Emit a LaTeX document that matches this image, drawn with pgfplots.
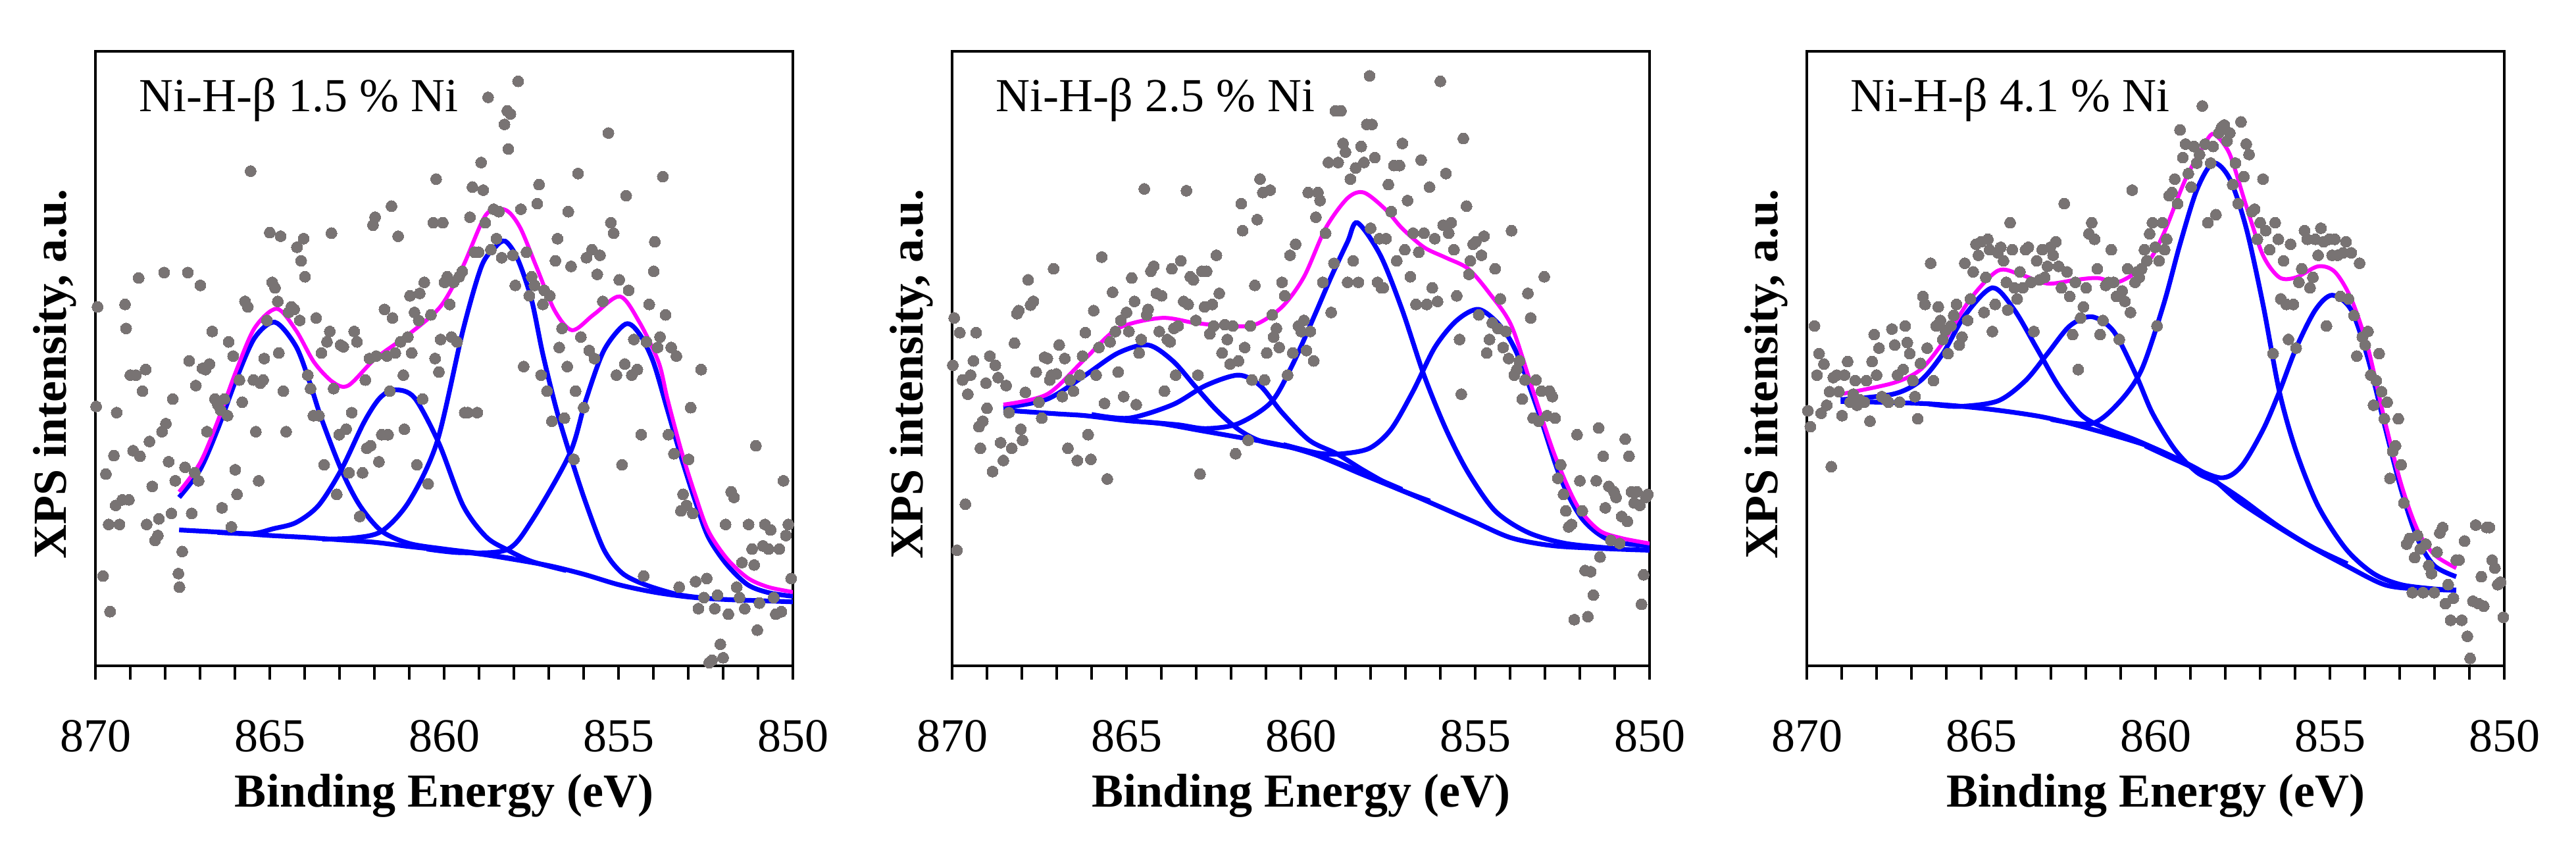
\documentclass[border=0pt]{standalone}
\usepackage{fontspec}
\setmainfont{Liberation Serif}
\usepackage{pgfplots}
\pgfplotsset{compat=1.18}
\definecolor{dotgray}{RGB}{120,115,115}
\definecolor{fitblue}{RGB}{0,0,255}
\definecolor{fitmag}{RGB}{255,0,255}
\pgfplotsset{
 xps/.style={
  scale only axis, width=176.67pt, height=155.67pt,
  xmin=850, xmax=870, x dir=reverse, ymin=0, ymax=100,
  xtick={850,855,860,865,870}, minor x tick num=4,
  ytick=\empty, xtick pos=left, tick align=outside,
  major tick length=3.5pt, minor tick length=3.5pt,
  every tick/.style={black, line width=0.6pt},
  axis line style={line width=0.7pt},
  /pgf/number format/assume math mode=true,
  /pgf/number format/1000 sep={},
  tick label style={font=\rmfamily\fontsize{12}{14}\selectfont},
  xticklabel style={anchor=base, yshift=-18.3pt},
  xlabel={Binding Energy (eV)},
  ylabel={XPS intensity, a.u.},
  label style={font=\rmfamily\fontsize{12}{14}\selectfont\bfseries},
  xlabel style={at={(axis description cs:0.5,0)}, anchor=base, yshift=-35.8pt},
  ylabel style={at={(axis description cs:-0.0585,0.475)}, anchor=center},
 },
 comp/.style={fitblue, line width=1.2pt, smooth, tension=0.5, mark=none},
 env/.style={fitmag, line width=1.0pt, smooth, tension=0.5, mark=none},
 dots/.style={only marks, mark=*, mark size=1.4pt, mark options={fill=dotgray, draw=dotgray, line width=0pt}},
}
\begin{document}
\begin{tikzpicture}
\useasboundingbox (0,0) rectangle (652.5pt,215.83pt);
% ---------------- Panel 1 ----------------
\begin{axis}[xps, at={(24.17pt,47.17pt)}, anchor=south west]
\addplot[comp] coordinates {(867.6,22.1) (866,21.6) (865,21.2) (864,20.9) (863,20.5) (862,20.1) (861,19.4) (860,18.8) (859,18.2) (858.2,17.5) (857,16.3) (856,14.9) (855,13.2) (854,12.0) (853,11.2) (852,10.8) (851,10.6) (850,10.4)};
\addplot[comp] coordinates {(867.6,27.4) (867.0,31.9) (866.5,38.4) (865.95,46.8) (865.43,53.4) (864.85,55.9) (864.25,52.0) (863.86,46.2) (863.53,40.4) (862.95,31.9) (862.42,26.1) (861.79,21.9) (861,19.9) (860,19.0) (859,18.3) (858,17.4)};
\addplot[comp] coordinates {(866.5,21.7) (865.5,21.5) (864.9,22.3) (864.25,23.3) (863.6,26.1) (862.95,31.9) (862.3,39.6) (861.84,43.6) (861.4,44.9) (860.85,43.6) (860.15,36.2) (859.46,26.1) (858.8,21.0) (858.2,18.9) (857.5,17.0) (856.5,15.5)};
\addplot[comp] coordinates {(863.5,20.6) (862.6,20.8) (861.79,21.9) (861.0,26.8) (860.2,36.5) (859.46,54.6) (858.93,65.0) (858.54,68.1) (858.25,69.1) (857.9,66.3) (857.5,59.7) (857.17,50.7) (856.78,41.7) (856.4,34.5) (855.95,26.7) (855.42,18.9) (854.9,15.1) (854.24,13.2) (853.3,11.6) (852.5,11.0)};
\addplot[comp] coordinates {(860.5,19.0) (859.5,18.4) (858.2,18.9) (857.5,23.5) (856.4,34.5) (855.95,43.0) (855.42,51.3) (854.8,55.6) (854.4,54.0) (854.0,49.4) (853.6,41.7) (853.2,33.9) (852.8,26.8) (852.43,21.0) (851.9,16.5) (851.3,13.2) (850.7,11.9) (850,11.3)};
\addplot[env] coordinates {(867.6,28.3) (867.0,33.0) (866.5,39.7) (865.95,48.2) (865.43,55.0) (864.8,58.1) (864.25,54.6) (863.73,49.4) (863.2,46.2) (862.75,45.6) (861.97,50.0) (861.0,54.0) (860.1,58.5) (859.46,65.0) (858.8,73.4) (858.25,74.2) (857.83,71.4) (857.36,65.0) (856.84,57.9) (856.33,54.6) (855.7,57.2) (854.96,60.1) (854.4,55.9) (853.85,49.4) (853.6,43.5) (853.2,35.0) (852.8,27.8) (852.43,22.0) (851.9,17.5) (851.3,14.3) (850.7,12.8) (850,12.0)};
\addplot[dots] coordinates {(869.94,58.4) (869.98,42.2) (869.70,31.2) (869.78,14.6) (869.58,8.8) (869.62,23.0) (869.47,34.2) (869.39,41.2) (869.42,26.1) (869.31,23.0) (869.23,27.0) (869.15,58.8) (869.12,54.9) (869.04,27.0) (869.00,47.3) (868.92,35.0) (868.84,47.3) (868.76,63.1) (868.72,34.1) (868.65,44.7) (868.56,48.2) (868.53,23.0) (868.45,36.5) (868.37,29.2) (868.29,20.4) (868.21,21.2) (868.18,23.9) (868.09,38.1) (868.03,64.0) (867.98,39.4) (867.90,33.2) (867.82,24.8) (867.78,43.4) (867.71,30.1) (867.62,15.0) (867.59,12.8) (867.51,18.6) (867.43,32.3) (867.35,64.0) (867.31,49.6) (867.24,24.8) (867.15,31.4) (867.12,45.6) (867.04,30.1) (866.99,61.9) (866.93,48.4) (866.84,48.2) (866.80,38.1) (866.73,49.1) (866.65,54.4) (866.57,43.4) (866.49,42.5) (866.41,41.6) (866.37,25.7) (866.30,43.4) (866.21,40.7) (866.18,52.7) (866.10,22.6) (866.05,50.4) (865.99,31.9) (865.94,27.9) (865.87,46.5) (865.79,42.9) (865.71,59.3) (865.63,58.4) (865.55,80.5) (865.47,46.5) (865.40,38.1) (865.32,30.1) (865.27,46.0) (865.19,46.5) (865.16,50.0) (865.08,56.2) (865.00,70.5) (864.93,62.4) (864.85,61.5) (864.77,59.3) (864.74,50.9) (864.69,69.9) (864.61,44.7) (864.53,38.1) (864.46,57.5) (864.38,58.4) (864.30,58.0) (864.22,68.1) (864.14,56.2) (864.10,65.9) (864.03,69.5) (863.99,63.3) (863.91,47.3) (863.83,45.1) (863.75,40.7) (863.67,56.6) (863.59,40.7) (863.52,50.9) (863.44,32.7) (863.36,52.7) (863.28,54.4) (863.23,70.4) (863.17,45.1) (863.08,27.9) (863.01,37.6) (862.97,52.2) (862.89,51.9) (862.81,38.5) (862.73,31.4) (862.65,41.2) (862.58,54.4) (862.50,52.7) (862.42,24.3) (862.34,31.4) (862.26,46.5) (862.22,35.4) (862.14,50.0) (862.11,35.8) (862.04,71.7) (861.98,73.0) (861.95,50.4) (861.87,33.2) (861.79,37.6) (861.71,58.0) (861.64,50.4) (861.61,37.6) (861.56,44.7) (861.51,74.8) (861.48,56.6) (861.40,50.9) (861.32,69.9) (861.25,52.7) (861.17,47.3) (861.14,38.5) (861.04,53.5) (860.98,60.2) (860.93,50.9) (860.85,57.5) (860.78,32.7) (860.73,56.2) (860.70,60.6) (860.62,43.4) (860.57,62.4) (860.46,29.6) (860.38,57.1) (860.31,72.1) (860.26,50.0) (860.23,79.2) (860.15,47.8) (860.10,53.1) (860.04,72.1) (859.99,62.4) (859.91,63.3) (859.84,58.8) (859.79,53.5) (859.73,62.4) (859.63,52.7) (859.57,63.3) (859.48,64.2) (859.41,41.2) (859.32,41.2) (859.26,73.0) (859.19,77.9) (859.13,67.3) (859.05,41.2) (859.01,67.3) (858.94,81.9) (858.88,77.4) (858.82,72.1) (858.74,92.5) (858.66,67.7) (858.58,74.3) (858.50,69.5) (858.43,73.9) (858.35,66.4) (858.27,88.1) (858.19,90.3) (858.16,84.1) (858.10,89.8) (858.03,66.8) (857.96,61.9) (857.88,95.1) (857.80,74.3) (857.72,48.7) (857.64,67.3) (857.56,60.2) (857.49,63.3) (857.41,61.9) (857.33,75.2) (857.28,78.3) (857.22,47.3) (857.17,58.8) (857.13,61.1) (857.05,44.7) (856.97,60.2) (856.91,39.8) (856.81,65.9) (856.75,69.5) (856.70,51.8) (856.62,54.9) (856.55,40.3) (856.47,48.7) (856.44,73.9) (856.36,65.0) (856.28,33.6) (856.23,44.7) (856.16,80.1) (856.08,53.5) (856.00,42.0) (855.92,66.4) (855.84,51.3) (855.76,67.7) (855.69,50.0) (855.61,63.7) (855.53,66.8) (855.45,59.3) (855.29,86.7) (855.22,72.1) (855.14,70.4) (855.06,47.3) (854.98,62.8) (854.90,32.7) (854.82,49.1) (854.78,76.5) (854.71,61.1) (854.62,47.3) (854.56,53.1) (854.46,48.2) (854.35,37.6) (854.28,14.6) (854.20,52.7) (854.12,58.8) (853.99,64.2) (853.96,69.0) (853.88,51.8) (853.81,53.5) (853.73,79.6) (853.65,57.1) (853.57,37.6) (853.49,51.8) (853.41,34.5) (853.34,50.4) (853.26,12.8) (853.21,25.2) (853.15,27.9) (853.05,26.1) (852.99,33.6) (852.93,42.0) (852.87,24.8) (852.79,13.7) (852.71,9.3) (852.63,48.2) (852.55,11.1) (852.47,14.2) (852.40,0.5) (852.32,0.9) (852.24,9.3) (852.16,11.5) (852.08,3.5) (852.00,1.3) (851.93,23.0) (851.85,8.4) (851.77,28.3) (851.69,27.4) (851.61,12.8) (851.53,11.1) (851.46,16.8) (851.38,9.3) (851.27,23.0) (851.17,19.0) (851.11,16.4) (851.06,35.8) (851.02,5.8) (850.96,10.2) (850.86,19.5) (850.80,23.0) (850.70,19.0) (850.64,22.1) (850.55,11.1) (850.49,8.4) (850.39,19.0) (850.33,8.8) (850.27,30.1) (850.20,21.2) (850.13,23.0) (850.05,14.2)};
\node[anchor=base west, font=\rmfamily\fontsize{12}{14}\selectfont] at (axis description cs:0.043,0.9015) {Ni-H-β 1.5 \% Ni};
\end{axis}
% ---------------- Panel 2 ----------------
\begin{axis}[xps, at={(241.17pt,47.17pt)}, anchor=south west]
\addplot[comp] coordinates {(868.53,41.6) (867,41.0) (866.18,40.7) (865,39.9) (864,39.4) (862.9,38.3) (861.8,37.2) (860.8,36.2) (859.9,35.0) (859,33.0) (858.35,31.4) (857.1,28.5) (856.47,27.0) (855.06,23.5) (853.96,20.8) (852.71,19.5) (851,19.0) (850,18.8)};
\addplot[comp] coordinates {(868.53,42.0) (867.27,43.4) (866.18,47.3) (865.24,50.9) (864.38,52.2) (863.67,49.6) (863.05,45.6) (862.42,41.6) (861.8,38.5) (861.17,36.6) (860.2,35.4) (859.3,33.8) (858.35,31.7) (857.1,28.7)};
\addplot[comp] coordinates {(866,40.9) (864.93,40.3) (863.67,42.5) (862.73,45.6) (861.79,47.3) (861.17,45.6) (860.54,41.2) (859.76,36.7) (858.97,34.5) (858.2,31.8) (857.3,29.0) (856.3,26.8)};
\addplot[comp] coordinates {(864.5,39.7) (863.5,39.2) (862.73,38.6) (861.8,39.4) (860.85,42.9) (860.23,49.1) (859.6,57.1) (859.13,63.3) (858.66,69.0) (858.38,72.1) (857.72,66.8) (857.1,58.0) (856.47,47.3) (855.84,38.5) (855.2,31.4) (854.43,25.2) (853.49,21.7) (852.4,19.9) (851,19.1)};
\addplot[comp] coordinates {(860.5,36.0) (859.5,34.6) (858.82,34.5) (858.03,35.4) (857.41,38.5) (856.78,44.7) (856.16,51.8) (855.53,56.2) (854.9,58.0) (854.28,55.3) (853.81,50.9) (853.18,41.2) (852.55,30.5) (851.93,23.9) (851.14,20.4) (850,19.5)};
\addplot[env] coordinates {(868.53,42.5) (867.27,44.2) (866.18,50.0) (865.24,54.9) (864,56.6) (863.05,55.8) (862.11,55.3) (861.32,55.5) (860.54,58.4) (859.91,63.3) (859.29,71.2) (858.66,76.1) (858.19,77.0) (857.56,74.2) (857.1,71.2) (856.47,68.1) (855.84,66.4) (855.2,64.6) (854.59,60.6) (853.96,55.3) (853.34,44.7) (852.71,34.1) (852.08,26.1) (851.46,22.1) (850.83,20.8) (850,19.9)};
\addplot[dots] coordinates {(869.94,56.6) (869.98,48.9) (869.86,18.8) (869.78,54.2) (869.70,46.5) (869.62,26.3) (869.55,44.2) (869.47,47.3) (869.39,49.6) (869.31,54.2) (869.23,38.9) (869.19,35.4) (869.12,39.8) (869.03,46.0) (869.00,41.9) (868.92,50.4) (868.84,31.6) (868.76,48.9) (868.68,46.9) (868.61,36.3) (868.53,33.4) (868.45,45.6) (868.37,41.2) (868.29,35.4) (868.21,52.5) (868.14,57.3) (868.09,57.8) (868.03,38.5) (867.98,36.7) (867.90,44.5) (867.82,62.8) (867.75,58.7) (867.67,59.3) (867.59,47.8) (867.51,42.9) (867.43,40.3) (867.35,50.2) (867.27,50.0) (867.20,46.5) (867.15,47.3) (867.09,64.6) (867.01,47.5) (866.93,52.2) (866.84,43.8) (866.77,50.0) (866.68,35.4) (866.62,46.5) (866.52,44.7) (866.41,33.4) (866.34,47.3) (866.26,50.4) (866.18,54.2) (866.10,37.6) (866.02,33.6) (865.94,57.8) (865.87,47.3) (865.79,51.8) (865.71,66.5) (865.63,42.7) (865.55,30.4) (865.47,52.7) (865.40,60.8) (865.32,54.4) (865.24,47.8) (865.16,56.2) (865.08,43.8) (865.00,57.5) (864.93,54.4) (864.85,63.1) (864.77,59.3) (864.72,42.5) (864.64,50.9) (864.58,53.1) (864.49,77.6) (864.42,57.1) (864.38,58.0) (864.30,64.2) (864.22,65.0) (864.14,60.6) (864.06,54.4) (863.99,60.2) (863.91,44.7) (863.83,53.1) (863.75,52.7) (863.70,64.6) (863.64,54.9) (863.59,47.3) (863.52,55.3) (863.44,65.9) (863.36,59.3) (863.28,77.3) (863.23,58.8) (863.17,63.3) (863.08,62.8) (863.01,56.2) (862.95,47.3) (862.89,31.2) (862.84,64.2) (862.76,58.4) (862.70,64.2) (862.61,54.0) (862.54,58.8) (862.50,55.3) (862.42,66.8) (862.34,60.6) (862.26,50.9) (862.18,55.5) (862.11,53.1) (862.03,49.1) (861.95,55.3) (861.87,34.5) (861.79,49.6) (861.71,75.2) (861.67,70.8) (861.61,51.8) (861.51,36.7) (861.45,55.3) (861.40,46.5) (861.32,61.9) (861.25,72.6) (861.17,79.2) (861.09,77.0) (861.04,46.5) (860.98,50.9) (860.88,77.4) (860.82,57.1) (860.78,53.5) (860.70,54.9) (860.62,51.8) (860.54,62.4) (860.46,60.2) (860.38,47.3) (860.31,66.8) (860.23,50.9) (860.15,68.6) (860.07,55.3) (859.99,54.4) (859.91,56.2) (859.84,51.3) (859.79,77.0) (859.73,54.4) (859.63,49.6) (859.57,73.0) (859.51,77.0) (859.45,75.7) (859.37,62.4) (859.29,70.4) (859.21,81.9) (859.13,57.5) (859.05,65.5) (859.01,90.3) (858.93,81.9) (858.85,90.3) (858.79,85.0) (858.72,83.6) (858.66,62.4) (858.58,79.2) (858.50,65.9) (858.43,81.0) (858.35,62.4) (858.27,84.5) (858.19,81.9) (858.11,88.1) (858.03,96.0) (858.00,71.2) (857.96,88.1) (857.88,82.7) (857.80,62.4) (857.75,69.5) (857.69,61.5) (857.64,61.5) (857.56,69.5) (857.49,78.3) (857.41,73.9) (857.33,81.4) (857.25,65.9) (857.17,81.4) (857.09,85.0) (857.02,67.7) (856.94,75.7) (856.86,63.3) (856.78,70.4) (856.70,58.8) (856.62,67.3) (856.55,82.3) (856.47,70.4) (856.39,58.8) (856.31,77.9) (856.23,61.5) (856.16,69.5) (856.08,59.3) (856.00,95.1) (855.92,71.7) (855.84,80.1) (855.76,70.4) (855.69,72.1) (855.61,67.7) (855.53,60.2) (855.45,53.1) (855.40,44.2) (855.34,85.8) (855.25,74.8) (855.18,63.7) (855.14,65.9) (855.06,68.6) (854.98,69.0) (854.90,57.1) (854.82,66.8) (854.75,69.9) (854.67,50.9) (854.59,53.1) (854.51,55.8) (854.43,64.6) (854.35,54.9) (854.28,59.7) (854.20,51.8) (854.12,54.4) (854.04,50.0) (853.96,70.8) (853.88,47.3) (853.81,48.2) (853.73,49.6) (853.65,43.4) (853.57,46.5) (853.49,60.6) (853.41,56.6) (853.34,40.3) (853.26,46.5) (853.18,39.8) (853.10,44.7) (853.02,63.3) (852.94,40.7) (852.87,44.7) (852.79,43.8) (852.71,40.3) (852.63,30.5) (852.55,32.7) (852.47,27.9) (852.40,25.2) (852.32,22.6) (852.24,23.0) (852.16,7.5) (852.08,37.6) (852.00,30.1) (851.93,25.2) (851.85,15.5) (851.77,8.0) (851.69,15.3) (851.61,11.5) (851.53,30.1) (851.46,38.7) (851.42,17.7) (851.33,34.1) (851.27,25.7) (851.17,29.2) (851.11,20.4) (851.02,28.3) (850.96,27.4) (850.86,19.9) (850.80,24.3) (850.70,36.9) (850.64,23.5) (850.59,34.1) (850.52,28.3) (850.44,26.5) (850.36,28.3) (850.28,26.1) (850.23,10.0) (850.17,14.8) (850.11,27.4) (850.05,27.9)};
\node[anchor=base west, font=\rmfamily\fontsize{12}{14}\selectfont] at (axis description cs:0.043,0.9015) {Ni-H-β 2.5 \% Ni};
\end{axis}
% ---------------- Panel 3 ----------------
\begin{axis}[xps, at={(457.67pt,47.17pt)}, anchor=south west]
\addplot[comp] coordinates {(869.03,43.0) (868.0,42.9) (866.42,42.6) (864.84,41.8) (863.25,40.5) (861.9,38.6) (860.09,35.5) (858.55,31.2) (857.55,26.5) (855.89,20.5) (854.54,16.3) (853.44,13.2) (852.49,12.5) (851.38,12.3)};
\addplot[comp] coordinates {(869.03,43.3) (867.53,44.2) (866.74,46.4) (866.1,50.8) (865.47,57.0) (864.68,61.5) (864.05,57.9) (863.41,51.7) (862.78,45.5) (862.15,40.9) (861.51,38.8) (860.6,36.8) (859.8,34.8) (858.8,32.0)};
\addplot[comp] coordinates {(866.5,42.6) (865.63,42.2) (864.52,43.1) (863.73,46.4) (863.1,50.8) (862.46,55.3) (861.83,56.8) (861.2,54.4) (860.56,47.3) (860.09,41.1) (859.45,35.2) (858.82,31.5) (858.27,29.9) (857.5,27.0) (856.5,22.8) (855.5,19.3) (854.5,16.6)};
\addplot[comp] coordinates {(863.0,40.1) (861.83,39.4) (861.04,42.9) (860.4,48.2) (859.77,58.8) (859.3,68.6) (858.82,77.4) (858.35,81.8) (857.87,79.2) (857.4,71.2) (856.92,58.8) (856.45,44.6) (855.97,34.9) (855.34,26.0) (854.54,19.0) (853.75,15.0) (852.96,13.2) (852.0,12.5) (851.38,12.3)};
\addplot[comp] coordinates {(860.3,35.8) (859.3,33.2) (858.15,30.6) (857.55,32.4) (856.92,38.4) (856.45,44.6) (855.97,51.7) (855.42,57.9) (854.94,60.3) (854.39,57.9) (853.91,50.0) (853.44,39.3) (852.96,28.7) (852.49,20.7) (852.01,16.3) (851.38,14.5)};
\addplot[env] coordinates {(869.03,44.2) (867.53,46.0) (866.74,48.2) (866.1,52.6) (865.31,59.7) (864.52,64.3) (863.89,63.7) (863.1,62.2) (862.3,62.8) (861.67,63.1) (861.04,62.5) (860.25,65.5) (859.77,70.3) (859.14,79.2) (858.5,85.8) (858.27,86.3) (857.87,83.2) (857.4,74.8) (856.92,66.8) (856.45,63.2) (855.97,63.2) (855.34,65.0) (854.86,64.1) (854.39,59.7) (853.91,51.7) (853.44,40.2) (852.96,29.6) (852.49,22.1) (852.01,18.1) (851.38,15.9)};
\addplot[dots] coordinates {(869.97,41.5) (869.90,38.9) (869.78,55.3) (869.71,47.3) (869.65,50.8) (869.59,41.1) (869.51,49.1) (869.43,42.4) (869.35,44.6) (869.30,32.4) (869.24,46.9) (869.14,47.3) (869.08,44.6) (868.99,40.7) (868.92,47.3) (868.83,49.5) (868.76,42.9) (868.67,44.2) (868.61,46.4) (868.56,42.4) (868.48,43.3) (868.35,42.9) (868.29,46.4) (868.19,39.8) (868.13,49.5) (868.07,53.9) (868.00,47.3) (867.93,51.7) (867.85,43.8) (867.72,43.3) (867.66,42.9) (867.56,54.8) (867.48,52.2) (867.40,47.3) (867.34,42.9) (867.24,48.2) (867.18,55.3) (867.12,52.6) (867.05,50.8) (866.96,46.4) (866.90,43.8) (866.82,40.2) (866.74,49.2) (866.67,60.1) (866.61,58.8) (866.55,51.7) (866.45,65.5) (866.37,46.4) (866.29,55.3) (866.23,58.4) (866.17,56.2) (866.10,53.1) (866.03,54.6) (865.95,50.8) (865.87,55.3) (865.79,57.0) (865.71,58.8) (865.63,52.2) (865.55,53.5) (865.47,65.5) (865.39,56.2) (865.31,59.7) (865.23,64.1) (865.15,68.6) (865.08,66.8) (865.00,69.0) (864.92,57.5) (864.87,63.2) (864.81,69.4) (864.76,67.7) (864.68,54.4) (864.60,58.8) (864.52,67.2) (864.44,68.1) (864.36,65.9) (864.28,62.4) (864.24,57.9) (864.17,72.1) (864.11,67.7) (864.05,61.5) (863.97,59.7) (863.89,64.1) (863.81,61.5) (863.73,67.7) (863.65,68.1) (863.57,62.4) (863.49,54.4) (863.41,65.9) (863.33,62.8) (863.25,67.7) (863.18,63.2) (863.10,65.0) (863.02,68.1) (862.94,66.8) (862.86,69.0) (862.78,65.0) (862.70,61.5) (862.62,75.2) (862.54,64.1) (862.46,60.1) (862.38,53.9) (862.30,62.4) (862.22,48.2) (862.15,56.6) (862.07,58.4) (861.99,61.5) (861.91,70.3) (861.83,72.1) (861.75,69.4) (861.67,64.6) (861.59,53.9) (861.51,56.2) (861.43,61.9) (861.35,62.4) (861.27,67.7) (861.20,62.4) (861.12,60.1) (861.04,53.1) (860.96,61.0) (860.88,59.3) (860.80,64.6) (860.72,57.5) (860.67,77.4) (860.59,62.4) (860.53,64.1) (860.47,63.2) (860.40,64.6) (860.32,67.7) (860.25,65.9) (860.17,70.3) (860.09,72.1) (860.01,68.1) (859.96,55.3) (859.90,65.9) (859.80,72.1) (859.74,67.7) (859.68,69.4) (859.61,76.5) (859.53,77.0) (859.45,79.2) (859.37,75.2) (859.30,87.2) (859.22,82.7) (859.14,84.9) (859.06,80.1) (858.98,77.9) (858.90,84.5) (858.82,81.8) (858.74,83.2) (858.66,91.1) (858.58,84.9) (858.50,72.1) (858.42,81.8) (858.35,84.5) (858.27,73.4) (858.19,86.7) (858.11,87.6) (858.03,88.0) (857.95,85.4) (857.87,86.7) (857.79,78.3) (857.71,81.8) (857.63,75.2) (857.55,88.5) (857.47,79.6) (857.40,84.9) (857.32,83.2) (857.24,73.9) (857.16,74.3) (857.08,69.4) (857.00,72.1) (856.92,79.2) (856.84,70.8) (856.73,67.7) (856.63,50.8) (856.57,72.1) (856.48,69.4) (856.41,59.7) (856.33,65.9) (856.25,58.8) (856.19,53.1) (856.13,68.6) (856.05,58.8) (855.97,51.7) (855.89,62.4) (855.81,64.6) (855.73,70.8) (855.65,69.4) (855.57,61.5) (855.49,63.2) (855.42,69.4) (855.34,66.8) (855.26,71.2) (855.18,69.0) (855.10,55.3) (855.02,69.4) (854.94,66.8) (854.86,69.4) (854.78,66.8) (854.70,60.1) (854.62,67.2) (854.54,69.0) (854.47,59.7) (854.39,67.2) (854.31,57.0) (854.23,50.4) (854.15,65.5) (854.07,53.5) (853.99,52.2) (853.91,54.4) (853.83,47.3) (853.75,42.4) (853.67,46.4) (853.59,50.8) (853.52,44.6) (853.44,40.2) (853.36,42.9) (853.28,30.5) (853.20,34.9) (853.12,35.8) (853.04,40.2) (852.96,32.7) (852.88,26.5) (852.80,19.8) (852.72,20.7) (852.64,11.9) (852.57,17.6) (852.49,21.2) (852.41,19.0) (852.33,11.9) (852.25,19.8) (852.17,16.3) (852.09,15.0) (852.01,11.9) (851.93,18.5) (851.85,21.6) (851.77,22.5) (851.69,10.1) (851.61,13.2) (851.54,7.4) (851.46,11.0) (851.38,17.2) (851.30,17.2) (851.22,7.4) (851.14,20.3) (851.06,4.8) (850.98,1.2) (850.90,10.5) (850.82,22.9) (850.74,10.1) (850.66,14.5) (850.59,9.7) (850.51,22.5) (850.43,22.5) (850.35,17.2) (850.27,15.9) (850.19,13.2) (850.11,13.6) (850.03,7.9)};
\node[anchor=base west, font=\rmfamily\fontsize{12}{14}\selectfont] at (axis description cs:0.043,0.9015) {Ni-H-β 4.1 \% Ni};
\end{axis}
\end{tikzpicture}
\end{document}
